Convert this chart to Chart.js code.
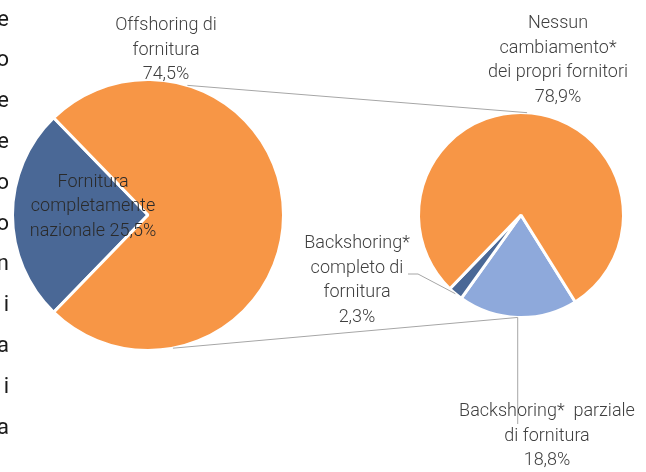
<!DOCTYPE html>
<html>
<head>
<meta charset="utf-8">
<script src="https://cdn.jsdelivr.net/npm/chart.js@4.4.1/dist/chart.umd.min.js"></script>
<style>
html, body { margin: 0; padding: 0; background: #fff; }
#wrap { position: relative; width: 646px; height: 472px; overflow: hidden; }
canvas { position: absolute; left: 0; top: 0; }
</style>
</head>
<body>
<div id="wrap">
  <canvas id="mainPie" width="646" height="472"></canvas>
  <canvas id="subPie" width="646" height="472"></canvas>
</div>
<script>
// left pie
var mainLabels = ["Fornitura completamente nazionale", "Offshoring di fornitura"];
var mainValues = [25.5, 74.5];
var mainColors = ["#4A6896", "#F79646"];

// right pie (breakdown)
var subLabels = ["Backshoring* parziale di fornitura", "Backshoring* completo di fornitura", "Nessun cambiamento* dei propri fornitori"];
var subValues = [18.8, 2.3, 78.9];
var subColors = ["#8EA9DB", "#4A6896", "#F79646"];

// bits of the page text cut off at the left edge
var edgeText = ["e", "o", "e", "e", "o", "o", "n", "i", "a", "i", "a"];

function pct(v) {
    return v.toFixed(1).replace('.', ',') + '%';
}

function pieOptions(pad) {
    return {
        responsive: false,
        animation: false,
        events: [],
        layout: { padding: pad },
        plugins: {
            legend: { display: false },
            tooltip: { enabled: false }
        }
    };
}

var mainChart = new Chart(document.getElementById("mainPie").getContext('2d'),
{
    type: 'pie',
    data:
    {
        labels: mainLabels,
        datasets: [
        {
            data: mainValues,
            backgroundColor: mainColors,
            borderColor: '#ffffff',
            borderWidth: 3
        }]
    },
    options: Object.assign(pieOptions({ left: 11, top: 78, right: 361, bottom: 120 }), { rotation: 224.1 })
});

// point on the rim of a pie, angle in degrees clockwise from top
function rimPoint(chart, deg) {
    var arc = chart.getDatasetMeta(0).data[0];
    var a = deg * Math.PI / 180;
    return { x: arc.x + arc.outerRadius * Math.sin(a), y: arc.y - arc.outerRadius * Math.cos(a) };
}

// middle of a slice on the rim
function slicePoint(chart, i) {
    var arc = chart.getDatasetMeta(0).data[i];
    var a = (arc.startAngle + arc.endAngle) / 2;
    return { x: arc.x + arc.outerRadius * Math.cos(a), y: arc.y + arc.outerRadius * Math.sin(a) };
}

function lines(ctx, pts) {
    ctx.beginPath();
    ctx.moveTo(pts[0].x, pts[0].y);
    for (var i = 1; i < pts.length; i++) ctx.lineTo(pts[i].x, pts[i].y);
    ctx.stroke();
}

function textBlock(ctx, rows, x, y) {
    for (var i = 0; i < rows.length; i++) ctx.fillText(rows[i], x, y + i * 24.6);
}

var overlay = {
    id: 'overlay',
    afterDraw: function(chart) {
        var ctx = chart.ctx;
        ctx.save();

        // connectors between the two pies
        ctx.strokeStyle = '#A6A6A6';
        ctx.lineWidth = 1;
        var bigTop = rimPoint(mainChart, 16.9);
        var bigBottom = rimPoint(mainChart, 169.4);
        var smallTop = rimPoint(chart, 3.4);
        var partial = slicePoint(chart, 0);
        var complete = slicePoint(chart, 1);
        lines(ctx, [bigTop, smallTop]);
        lines(ctx, [bigBottom, partial]);
        lines(ctx, [partial, { x: partial.x, y: 424 }]);
        lines(ctx, [complete, { x: 418, y: 274 }, { x: 408, y: 274 }]);

        // labels
        ctx.fillStyle = '#404040';
        ctx.font = '300 18px Roboto';
        ctx.textAlign = 'center';
        ctx.textBaseline = 'middle';
        textBlock(ctx, ["Offshoring di", "fornitura", pct(mainValues[1])], 166, 25.5);
        textBlock(ctx, ["Nessun", "cambiamento*", "dei propri fornitori", pct(subValues[2])], 558, 23.5);
        textBlock(ctx, ["Backshoring*", "completo di", "fornitura", pct(subValues[1])], 357, 243.5);
        textBlock(ctx, ["Backshoring*  parziale", "di fornitura", pct(subValues[0])], 547, 411.5);
        ctx.fillStyle = '#2A2A2A';
        textBlock(ctx, ["Fornitura", "completamente", "nazionale " + pct(mainValues[0])], 93, 182);

        // cut-off page text
        ctx.fillStyle = '#1A1A1A';
        ctx.font = '22px Roboto';
        ctx.textAlign = 'right';
        for (var i = 0; i < edgeText.length; i++) ctx.fillText(edgeText[i], 9, 20 + i * 40.8);

        ctx.restore();
    }
};

var subChart = new Chart(document.getElementById("subPie").getContext('2d'),
{
    type: 'pie',
    data:
    {
        labels: subLabels,
        datasets: [
        {
            data: subValues,
            backgroundColor: subColors,
            borderColor: '#ffffff',
            borderWidth: 3
        }]
    },
    options: Object.assign(pieOptions({ left: 417, top: 111, right: 21, bottom: 153 }), { rotation: 148 }),
    plugins: [overlay]
});
</script>
</body>
</html>
